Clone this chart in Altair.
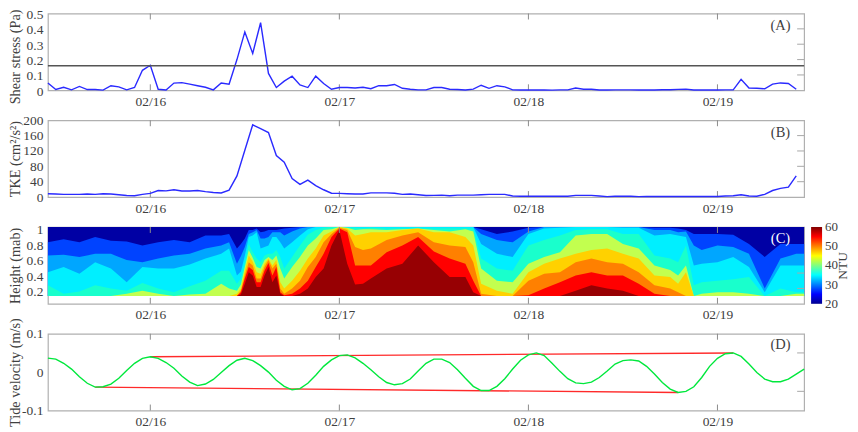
"""Shear stress, TKE, turbidity and tide velocity over four days (02/16 to 02/19)."""
import pandas as pd
import altair as alt

# hours since 02/16 00:00
hours = list(range(-13, 83))
hours_tide = list(range(-13, 84))

shear = [.048, .005, .02, .003, .025, .005, .005, .001, .03, .022, .003, .018, .13, .163, .007, .002,
         .047, .05, .04, .03, .02, .003, .047, .04, .2, .38, .24, .44, .11, .018, .06, .092,
         .035, .018, .092, .044, .007, .018, .018, .015, .02, .01, .03, .03, .038, .013, .007, .003,
         .003, .018, .018, .007, .005, .002, .008, .033, .013, .03, .022, .003, .002, .002, .002, .002,
         .001, .003, .003, .015, .007, .007, .002, .002, .003, .003, .003, .002, .002, .002, .004, .004,
         .006, .008, .002, .002, .002, .002, .003, .003, .072, .015, .013, .01, .04, .048, .044, .007]

tke = [8.7, 8, 7, 7, 7, 8, 7, 8.7, 8, 6, 4, 3.5, 7, 9.5, 17, 16,
       19, 15.6, 15.6, 17, 14, 12, 10.5, 18, 55, 122, 188, 178, 168, 108, 91, 48,
       33, 44, 30, 19, 10, 9.5, 8.7, 8, 8, 11, 11, 11, 10, 7, 8, 6,
       4, 4.3, 5, 3.5, 5, 5, 5, 6, 7, 7, 7, 2.6, 2, 2, 2, 2,
       2, 2.5, 2, 4.3, 4.3, 4.3, 2.6, 1, 2, 2, 2, 1, 1.5, 1.5, 1.5, 1.5,
       1.5, 1.5, 1.5, 1.5, 1.5, 1.5, 2.6, 3.5, 6, 2.6, 2, 7, 17, 22.6, 26, 55]

tide = [.0365, .034, .023, .008, -.012, -.029, -.039, -.038, -.031, -.016, .004, .023, .036, .04, .036, .025,
        .01, -.01, -.026, -.035, -.031, -.019, -.001, .017, .031, .036, .03, .017, 0, -.021, -.037, -.046,
        -.043, -.029, -.008, .015, .032, .043, .045, .037, .023, .006, -.012, -.027, -.033, -.03, -.018, .003,
        .023, .034, .034, .025, .006, -.016, -.037, -.048, -.048, -.037, -.017, .008, .031, .045, .05, .043,
        .023, .002, -.017, -.028, -.03, -.026, -.014, .003, .021, .03, .032, .029, .015, -.005, -.027, -.044,
        -.053, -.05, -.038, -.014, .015, .036, .048, .05, .041, .021, -.001, -.018, -.025, -.025, -.018, -.005, .008]

# tidal envelope
upper_hours = [0, 74]
upper_vals = [.04, .05]
lower_hours = [-7, 67]
lower_vals = [-.039, -.053]

threshold = 0.16

# turbidity contours: height of each band's top edge, read column by column
hours_c = [-13, -11, -9, -7, -5, -3, -1, 1, 3, 5, 7, 9,
           10, 11, 12, 13, 14, 15, 16, 17, 18,
           20, 22, 24, 26, 28, 30, 32, 34, 36, 38, 40, 41,
           42, 44, 46, 48, 50, 52, 54, 56, 58, 60, 62, 64, 66,
           67, 68, 69, 70, 72, 74, 76, 78, 80, 82, 83]
top_26 = [.80, .84, .80, .87, .82, .81, .76, .80, .83, .80, .89, .89,
          .91, .72, .85, .96, .93, .96, .96, .98, .99,
          1, 1, 1, 1, 1, 1, 1, 1, 1, 1, 1, 1,
          .97, .91, .94, .99, 1, 1, 1, 1, 1, 1, 1, .99, .99,
          .98, .96, .91, .91, .91, .9, .78, .61, .78, .78, .78]
top_30 = [.63, .64, .61, .65, .65, .57, .54, .59, .63, .65, .72, .76,
          .80, .52, .74, .93, .85, .87, .93, .89, .94,
          1, 1, 1, 1, 1, 1, 1, 1, 1, 1, 1, 1,
          .91, .83, .80, .94, 1, 1, 1, 1, 1, 1, 1, .96, .96,
          .93, .94, .76, .7, .76, .74, .65, .2, .59, .65, .65]
top_34 = [.41, .48, .39, .54, .46, .28, .48, .46, .46, .51, .59, .65,
          .72, .37, .63, .89, .72, .76, .87, .72, .8,
          .97, 1, 1, 1, 1, 1, 1, 1, 1, 1, 1, 1,
          .78, .65, .61, .91, .98, .99, 1, 1, 1, .99, .99, .89, .91,
          .89, .87, .5, .52, .54, .61, .48, .15, .5, .5, .5]
top_38 = [.24, .13, .16, .24, .2, .17, .27, .2, .15, .23, .3, .43,
          .43, .26, .54, .67, .54, .65, .7, .46, .61,
          .9, .99, 1, .99, .99, .98, .98, .98, .98, .98, .98, .98,
          .59, .46, .43, .76, .83, .89, .96, .97, .97, .91, .91, .63, .59,
          .54, .76, .24, .28, .3, .32, .35, .1, .2, .15, .15]
top_43 = [.1, .1, .1, .1, .1, .13, .17, .13, .1, .12, .13, .26,
          .2, .17, .48, .6, .46, .61, .63, .33, .48,
          .76, .96, 1, .96, .97, .96, .97, .98, .96, .94, .97, .94,
          .46, .3, .28, .52, .61, .67, .89, .91, .91, .78, .72, .5, .44,
          .37, .5, .1, .13, .15, .15, .13, .1, .1, .13, .13]
top_47 = [.1, .1, .1, .1, .1, .1, .1, .1, .1, .1, .1, .1,
          .1, .13, .43, .55, .39, .59, .57, .2, .3,
          .59, .89, 1, .89, .93, .93, .96, .98, .93, .93, .87, .76,
          .26, .17, .13, .41, .52, .59, .65, .7, .72, .65, .59, .37, .35,
          .26, .41, .1, .1, .1, .1, .1, .1, .1, .1, .1]
top_51 = [.1, .1, .1, .1, .1, .1, .1, .1, .1, .1, .1, .1,
          .1, .1, .37, .5, .33, .57, .52, .13, .2,
          .48, .8, .99, .74, .72, .83, .89, .93, .8, .76, .74, .54,
          .13, .1, .1, .3, .39, .41, .54, .59, .54, .52, .41, .24, .2,
          .15, .1, .1, .1, .1, .1, .1, .1, .1, .1, .1]
top_55 = [.1, .1, .1, .1, .1, .1, .1, .1, .1, .1, .1, .1,
          .1, .1, .33, .44, .28, .53, .48, .11, .13,
          .3, .65, .98, .5, .5, .67, .76, .87, .68, .59, .52, .3,
          .1, .1, .1, .11, .2, .28, .37, .41, .37, .37, .26, .13, .1,
          .1, .1, .1, .1, .1, .1, .1, .1, .1, .1, .1]
top_59 = [.1, .1, .1, .1, .1, .1, .1, .1, .1, .1, .1, .1,
          .1, .1, .26, .37, .22, .48, .37, .1, .1,
          .2, .46, .96, .25, .33, .46, .52, .76, .54, .35, .35, .15,
          .1, .1, .1, .1, .1, .1, .17, .24, .2, .17, .1, .1, .1,
          .1, .1, .1, .1, .1, .1, .1, .1, .1, .1, .1]

# extra columns where the contours change quickly
hours_fine = [11.5, 12.5, 13.5, 14.5, 15.5, 16.5, 19, 21, 23, 25, 27]
fine_26 = [.78, .96, .98, .94, .96, .97, 1, 1, 1, 1, 1]
fine_30 = [.62, .91, .96, .85, .93, .93, .98, 1, 1, 1, 1]
fine_34 = [.42, .87, .93, .74, .87, .8, .89, 1, 1, 1, 1]
fine_38 = [.33, .78, .59, .63, .65, .61, .76, .96, 1, .99, .98]
fine_43 = [.25, .7, .48, .57, .57, .46, .61, .85, .97, .99, .97]
fine_47 = [.2, .63, .41, .52, .5, .28, .43, .72, .94, .98, .91]
fine_51 = [.17, .54, .33, .48, .46, .2, .3, .61, .91, .96, .7]
fine_55 = [.15, .48, .28, .43, .37, .15, .2, .48, .87, .93, .5]
fine_59 = [.12, .41, .22, .37, .28, .13, .13, .35, .76, .52, .26]

bands = {26: (top_26, fine_26), 30: (top_30, fine_30), 34: (top_34, fine_34), 38: (top_38, fine_38),
         43: (top_43, fine_43), 47.5: (top_47, fine_47), 51.5: (top_51, fine_51), 55: (top_55, fine_55),
         59: (top_59, fine_59)}
level_background = 21
height_floor = 0.1

# jet colour map: turbidity stops and their colours
jet_levels = [20, 25, 35, 45, 55, 60]
jet_colors = ["#00008f", "#0000ff", "#00ffff", "#ffff00", "#ff0000", "#7f0000"]
colorbar_ticks = [20, 30, 40, 50, 60]

day_ticks = [0, 24, 48, 72]

W, H = 758, 77
FONT = "Liberation Serif"
INK = "#404040"
FRAME = "#8c8c8c"

x_scale = alt.Scale(domain=[-13, 83], nice=False, zero=False)
x_axis = alt.Axis(values=day_ticks, labelExpr="'02/' + (16 + datum.value / 24)", title=None,
                  ticks=False, domain=False, grid=False, labelPadding=4, labelFontSize=13.5,
                  labelFont=FONT, labelColor=INK)


def y_axis(title, values, title_y=38.5, offset=0):
    return alt.Axis(title=title, values=values, labelExpr="'' + datum.value", ticks=False, domain=False,
                    grid=False, labelPadding=5, labelFontSize=13.5, labelFont=FONT, labelColor=INK,
                    labelOffset=offset, titleFont=FONT, titleFontSize=14.3,
                    titleFontWeight="normal", titleColor=INK, titleX=-25, titleY=title_y,
                    titleAngle=270, titleAlign="center", titleBaseline="bottom")


def x_enc():
    return alt.X("hour:Q", scale=x_scale, axis=x_axis)


def inner_ticks(y_enc, y_values):
    """MATLAB style ticks pointing into the box on the top, bottom and right sides."""
    x_df = pd.DataFrame({"hour": day_ticks})
    y_df = pd.DataFrame({y_enc.shorthand.split(":")[0]: y_values})
    top = alt.Chart(x_df).mark_rule(color=FRAME, strokeWidth=1).encode(x=x_enc(), y=alt.value(0), y2=alt.value(6))
    bottom = alt.Chart(x_df).mark_rule(color=FRAME, strokeWidth=1).encode(x=x_enc(), y=alt.value(H - 6), y2=alt.value(H))
    right = alt.Chart(y_df).mark_rule(color="#a8a8a8", strokeWidth=1).encode(x=alt.value(W - 7), x2=alt.value(W), y=y_enc)
    return [top, bottom, right]


def panel_letter(letter, value, y_enc, color=INK):
    df = pd.DataFrame({"hour": [80], y_enc.shorthand.split(":")[0]: [value], "label": [letter]})
    return alt.Chart(df).mark_text(font=FONT, fontSize=14.5, color=color).encode(
        x=x_enc(), y=y_enc, text="label:N")


# (A) shear stress
shear_y = alt.Y("shear:Q", scale=alt.Scale(domain=[0, 0.5], nice=False),
                axis=y_axis("Shear stress (Pa)", [0, .1, .2, .3, .4, .5], title_y=43, offset=1))
shear_line = alt.Chart(pd.DataFrame({"hour": hours, "shear": shear})).mark_line(color="#2a2aff", strokeWidth=1.4).encode(
    x=x_enc(), y=shear_y)
shear_rule = alt.Chart(pd.DataFrame({"shear": [threshold]})).mark_rule(color="#555555", strokeWidth=1.4).encode(y=shear_y)
panel_a = alt.layer(*inner_ticks(shear_y, [.1, .2, .3, .4]), shear_line, shear_rule,
                    panel_letter("(A)", 0.42, shear_y)).properties(width=W, height=H)

# (B) turbulent kinetic energy
tke_y = alt.Y("tke:Q", scale=alt.Scale(domain=[0, 200], nice=False),
              axis=y_axis("TKE (cm²/s²)", [0, 40, 80, 120, 160, 200]))
tke_line = alt.Chart(pd.DataFrame({"hour": hours, "tke": tke})).mark_line(color="#2a2aff", strokeWidth=1.4).encode(
    x=x_enc(), y=tke_y)
panel_b = alt.layer(*inner_ticks(tke_y, [40, 80, 120, 160]), tke_line,
                    panel_letter("(B)", 166, tke_y)).properties(width=W, height=H)

# (C) turbidity
height_y = alt.Y("top:Q", scale=alt.Scale(domain=[0, 1], nice=False),
                 axis=y_axis("Height (mab)", [.2, .4, .6, .8, 1], offset=3))
ntu_color = alt.Color("level:Q", scale=alt.Scale(domain=jet_levels, range=jet_colors), legend=None)
background_df = pd.DataFrame({"hour": hours_c, "top": 1, "base": height_floor, "level": level_background})
band_layers = [alt.Chart(background_df).mark_area().encode(x=x_enc(), y=height_y, y2="base:Q", color=ntu_color)]
for level, (tops, fine) in bands.items():
    band_df = pd.DataFrame({"hour": hours_c + hours_fine, "top": tops + fine, "base": height_floor, "level": level})
    band_layers.append(alt.Chart(band_df.sort_values("hour")).mark_area().encode(
        x=x_enc(), y=height_y, y2="base:Q", color=ntu_color))

# colour bar beside the panel; it runs over the panel's full height, so its ticks use the same y scale
jet_span = jet_levels[-1] - jet_levels[0]
bar_fill = alt.LinearGradient(gradient="linear", x1=0, x2=0, y1=1, y2=0,
                              stops=[alt.GradientStop(offset=(lv - jet_levels[0]) / jet_span, color=c)
                                     for lv, c in zip(jet_levels, jet_colors)])
colorbar = alt.Chart(pd.DataFrame({"top": [1], "base": [0]})).mark_rect(fill=bar_fill).encode(
    x=alt.value(765), x2=alt.value(776), y=height_y, y2="base:Q")
bar_labels = alt.Chart(pd.DataFrame({"top": [(v - jet_levels[0]) / jet_span for v in colorbar_ticks],
                                     "label": [str(v) for v in colorbar_ticks]})).mark_text(
    font=FONT, fontSize=13, color=INK, align="left").encode(x=alt.value(779), y=height_y, text="label:N")
ntu_label = alt.Chart(pd.DataFrame({"label": ["NTU"]})).mark_text(
    font=FONT, fontSize=13.5, color=INK, angle=270).encode(x=alt.value(796.5), y=alt.value(39), text="label:N")
panel_c = alt.layer(*band_layers, *inner_ticks(height_y, [.2, .4]), colorbar, bar_labels, ntu_label,
                    panel_letter("(C)", 0.84, height_y, color="white")).properties(width=W, height=H)

# (D) tide velocity
tide_y = alt.Y("tide:Q", scale=alt.Scale(domain=[-0.1, 0.1], nice=False),
               axis=y_axis("Tide velocity (m/s)", [-.1, 0, .1]))
tide_line = alt.Chart(pd.DataFrame({"hour": hours_tide, "tide": tide})).mark_line(color="#00e83c", strokeWidth=1.4).encode(
    x=x_enc(), y=tide_y)
upper_line = alt.Chart(pd.DataFrame({"hour": upper_hours, "tide": upper_vals})).mark_line(color="#ff2a2a", strokeWidth=1.4).encode(
    x=x_enc(), y=tide_y)
lower_line = alt.Chart(pd.DataFrame({"hour": lower_hours, "tide": lower_vals})).mark_line(color="#ff2a2a", strokeWidth=1.4).encode(
    x=x_enc(), y=tide_y)
panel_d = alt.layer(*inner_ticks(tide_y, [-.05, .05]), upper_line, lower_line, tide_line,
                    panel_letter("(D)", 0.07, tide_y)).properties(width=W, height=H)

chart = alt.vconcat(panel_a, panel_b, panel_c, panel_d, spacing=30, bounds="flush").properties(
    padding={"left": 0, "top": -2, "right": 0, "bottom": 0}
).configure_view(stroke="#b0b0b0", strokeWidth=1.2)

chart.save("out.html", embed_options={"renderer": "svg", "actions": False})
